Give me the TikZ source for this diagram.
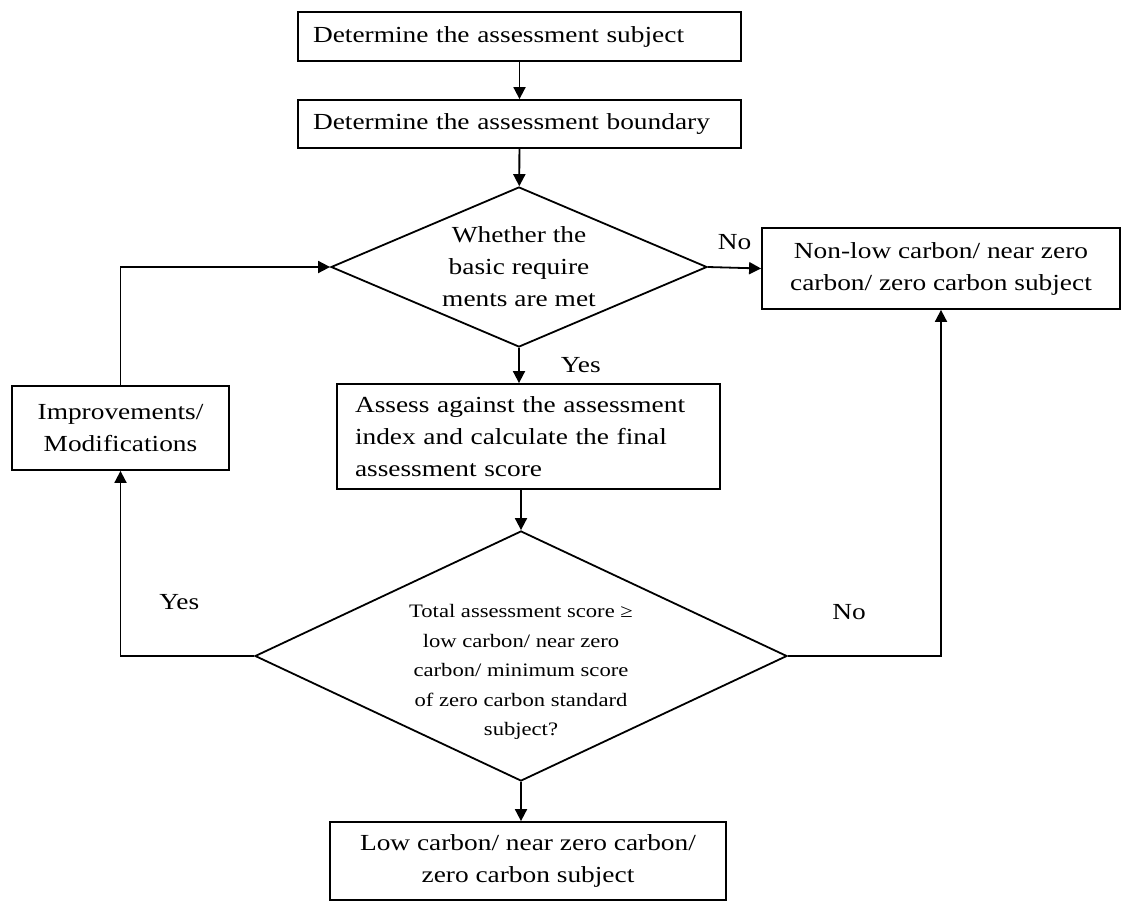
\documentclass[tikz,border=0pt]{standalone}
\usepackage{fontspec}
\setmainfont[FakeStretch=1.19]{Liberation Serif}
\usetikzlibrary{arrows.meta,positioning,shapes.geometric}

\begin{document}
\begin{tikzpicture}[x=1pt,y=-1pt,font=\fontsize{23}{32}\selectfont,
  box/.style={draw,line width=1.8pt,inner sep=0pt},
  decision/.style={draw,diamond,line width=1.8pt,inner sep=0pt,align=center},
  flow/.style={line width=1.8pt,-{Triangle[length=12pt,width=12pt]}},
  lbl/.style={inner sep=0pt}]
  \useasboundingbox (0,0) rectangle (1122,902);

  \node[box,minimum width=443pt,minimum height=49pt,text width=413pt,align=left] (subj) at (519.5,36.5) {Determine the assessment subject};
  \node[box,minimum width=443pt,minimum height=48pt,text width=413pt,align=left] (bound) at (519.5,124) {Determine the assessment boundary};
  \node[decision,aspect=2.35,minimum width=376pt,minimum height=160pt] (basic) at (519,267) {Whether the\\basic require\\ments are met};
  \node[box,minimum width=358pt,minimum height=81pt,align=center] (nonlow) at (941,268.5) {Non-low carbon/ near zero\\carbon/ zero carbon subject};
  \node[box,minimum width=217pt,minimum height=84pt,align=center] (improve) at (120.5,428) {Improvements/\\Modifications};
  \node[box,minimum width=383pt,minimum height=105pt,text width=347pt,align=left] (assess) at (528.5,436.5) {Assess against the assessment\\index and calculate the final\\assessment score};
  \node[decision,aspect=2.13,minimum width=532pt,minimum height=250pt,
    label={[lbl,font=\fontsize{19}{29.5}\selectfont,align=center,yshift=-16pt]center:{Total assessment score ≥\\low carbon/ near zero\\carbon/ minimum score\\of zero carbon standard\\subject?}}] (score) at (521,656) {};
  \node[box,minimum width=396pt,minimum height=78pt,align=center] (lowc) at (528,861) {Low carbon/ near zero carbon/\\zero carbon subject};

  % main flow
  \draw[flow] (subj) -- (bound);
  \draw[flow] (bound) -- (basic);
  \draw[flow] (basic.east) -- (nonlow.west) node[lbl,midway,above=17pt]{No};
  \draw[flow] (basic.south) -- (basic.south |- assess.north) node[lbl,midway,right=41pt]{Yes};
  \draw[flow] (assess.south -| score.north) -- (score.north);
  \draw[flow] (score.south) -- (score.south |- lowc.north);

  % side branches
  \draw[flow] (score.west) -| node[lbl,pos=0.28,above=45pt]{Yes} (improve.south);
  \draw[flow] (score.east) -| node[lbl,pos=0.2,above=35pt]{No} (nonlow.south);
  \draw[flow] (improve.north) |- (basic.west);
\end{tikzpicture}
\end{document}
